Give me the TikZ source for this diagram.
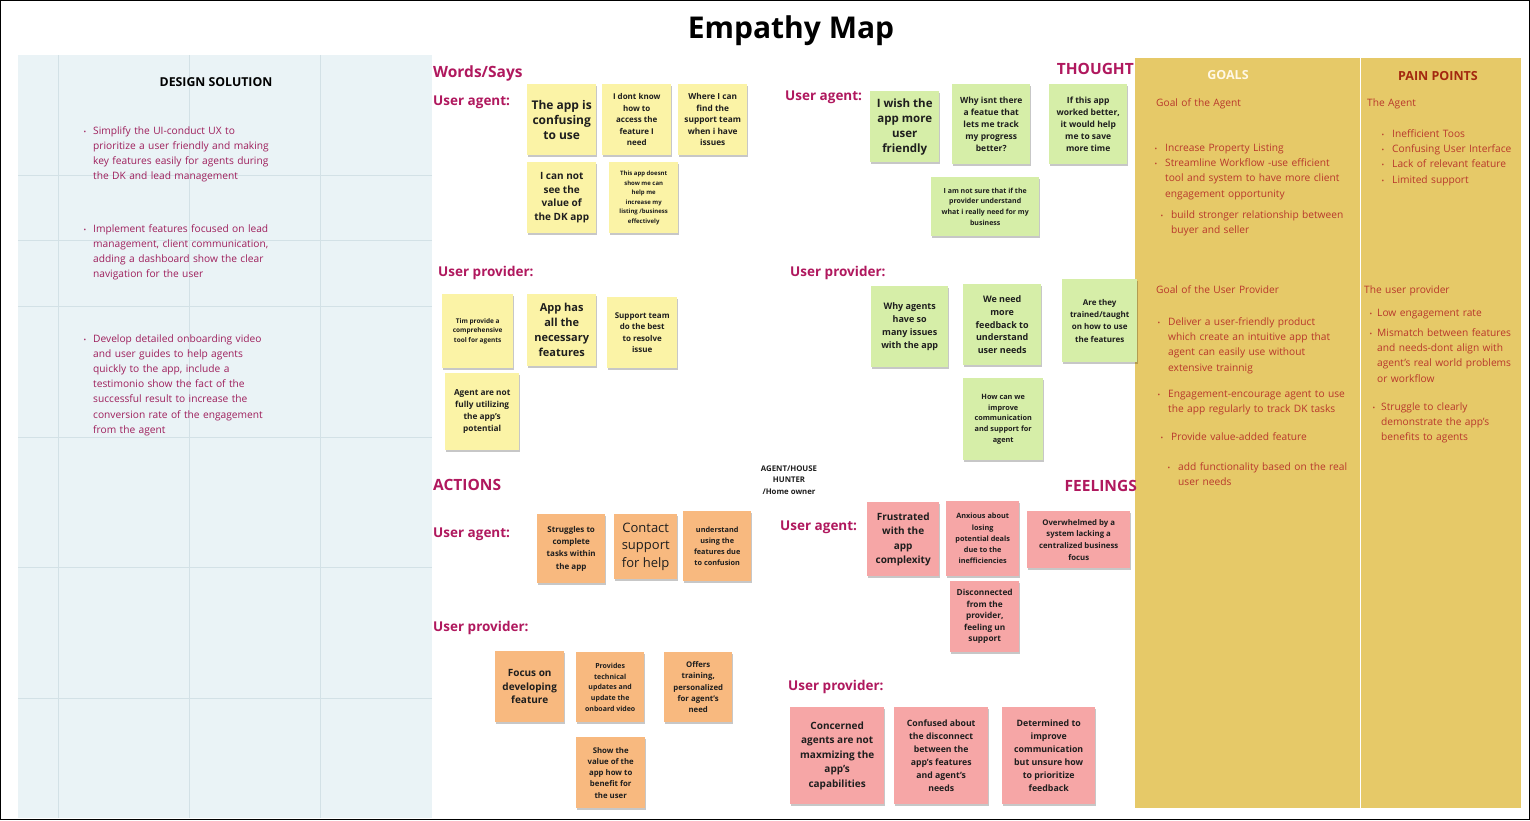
\documentclass[tikz,border=0pt]{standalone}
\usepackage{fontspec}
\setmainfont{Open Sans}
\usetikzlibrary{shadows}
\definecolor{mag}{HTML}{B0185E}
\definecolor{dsol}{HTML}{9E1F5C}
\definecolor{panelblue}{HTML}{EAF3F6}
\definecolor{gridblue}{HTML}{D3E1E6}
\definecolor{gold}{HTML}{E6C968}
\definecolor{goaltext}{HTML}{B8382C}
\definecolor{goalhead}{HTML}{FFF8E6}
\definecolor{paintitle}{HTML}{A3280F}
\definecolor{yel}{HTML}{FBF3A6}
\definecolor{grn}{HTML}{D6EEA8}
\definecolor{org}{HTML}{F8B97F}
\definecolor{pnk}{HTML}{F6A6A6}
\definecolor{ink}{HTML}{1E1E1E}
\newcommand{\bul}[1][8pt]{\leavevmode\llap{{\fontsize{7}{7}\selectfont\textbullet}\hspace{#1}}}
\tikzset{
  sticky/.style={inner sep=2pt, align=center, anchor=north west, text=ink,
    drop shadow={shadow xshift=0.3pt, shadow yshift=-1.6pt, opacity=0.22, fill=black}},
  sz/.style 2 args={minimum width=#1pt, minimum height=#2pt},
  fb/.style 2 args={font={\bfseries\fontsize{#1}{#2}\selectfont}},
  fr/.style 2 args={font={\fontsize{#1}{#2}\selectfont}},
  hdr/.style={text=mag, font={\bfseries\fontsize{15.5}{18}\selectfont}, inner sep=0pt},
  sub/.style={text=mag, font={\bfseries\fontsize{13.5}{16}\selectfont}, inner sep=0pt, anchor=west},
  btxt/.style={text=#1, font={\fontsize{10.2}{15.2}\selectfont}, inner sep=0pt,
    anchor=base west, align=left, text width=230pt},
}
\begin{document}
\begin{tikzpicture}[x=1pt,y=-1pt]
\useasboundingbox (0,0) rectangle (1530,820);
\fill[white] (0,0) rectangle (1530,820);
% ---------- panels ----------
\fill[panelblue] (18,55) rectangle (432,818);
\foreach \gx in {58.7,189,320.7} \draw[gridblue, line width=0.8pt] (\gx,55) -- (\gx,818);
\foreach \gy in {175,240,306,437,567,698} \draw[gridblue, line width=0.8pt] (18,\gy) -- (432,\gy);
\fill[gold] (1135,58) rectangle (1359.5,808);
\fill[gold] (1361,58) rectangle (1521,808);
\draw[black, line width=1.4pt] (0.7,0.7) rectangle (1529.3,819.3);
% ---------- title ----------
\node[font={\bfseries\fontsize{30}{34}\selectfont}, inner sep=0pt] (title) at (791,31) {Empathy Map};
% ---------- design solution ----------
\node[font={\bfseries\fontsize{12.3}{15}\selectfont}, inner sep=0pt] (dshead) at (216,82) {DESIGN SOLUTION};
\node[btxt=dsol] (ds1) at (93,134) {\bul[7pt]Simplify the UI-conduct UX to\\prioritize a user friendly and making\\key features easily for agents during\\the DK and lead management};
\node[btxt=dsol] (ds2) at (93,232) {\bul[7pt]Implement features focused on lead\\management, client communication,\\adding a dashboard show the clear\\navigation for the user};
\node[btxt=dsol] (ds3) at (93,342) {\bul[7pt]Develop detailed onboarding video\\and user guides to help agents\\quickly to the app, include a\\testimonio show the fact of the\\successful result to increase the\\conversion rate of the engagement\\from the agent};
% ---------- section headers ----------
\node[hdr, anchor=west] (hwords) at (433,73) {Words/Says};
\node[sub] (wua) at (433,102) {User agent:};
\node[sub] (wup) at (438,273) {User provider:};
\node[hdr, anchor=east] (hthought) at (1134,69) {THOUGHT};
\node[sub] (tua) at (785,97) {User agent:};
\node[sub] (tup) at (790,273) {User provider:};
\node[hdr, anchor=west] (hactions) at (433,485) {ACTIONS};
\node[sub] (aua) at (433,534) {User agent:};
\node[sub] (aup) at (433,628) {User provider:};
\node[hdr, anchor=east] (hfeel) at (1137,486) {FEELINGS};
\node[sub] (fua) at (780,527) {User agent:};
\node[sub] (fup) at (788,687) {User provider:};
\node[fb={7.8}{11.5}, align=center, inner sep=0pt, text=ink] (persona) at (789,480) {AGENT/HOUSE\\HUNTER\\/Home owner};
% ---------- words / says ----------
\node[sticky, fill=yel, sz={69}{71}, fb={12}{15}] (w1) at (527,84) {The app is\\confusing\\to use};
\node[sticky, fill=yel, sz={69}{71}, fb={8}{11.6}] (w2) at (602,84) {I dont know\\how to\\access the\\feature I\\need};
\node[sticky, fill=yel, sz={69}{71}, fb={8.3}{11.5}] (w3) at (678,84) {Where I can\\find the\\support team\\when i have\\issues};
\node[sticky, fill=yel, sz={69}{71}, fb={10}{13.8}] (w4) at (527,162) {I can not\\see the\\value of\\the DK app};
\node[sticky, fill=yel, sz={69}{71}, fb={6}{9.5}] (w5) at (609,162) {This app doesnt\\show me can\\help me\\increase my\\listing /business\\effectively};
\node[sticky, fill=yel, sz={71}{74}, fb={6.5}{9.8}] (w6) at (442,294) {Tim provide a\\comprehensive\\tool for agents};
\node[sticky, fill=yel, sz={69}{72}, fb={11}{14.9}] (w7) at (527,294) {App has\\all the\\necessary\\features};
\node[sticky, fill=yel, sz={70}{71}, fb={8}{11.3}] (w8) at (607,297) {Support team\\do the best\\to resolve\\issue};
\node[sticky, fill=yel, sz={74}{77}, fb={8.3}{12.2}] (w9) at (445,373) {Agent are not\\fully utilizing\\the app's\\potential};
% ---------- thought ----------
\node[sticky, fill=grn, sz={69}{71}, fb={11.5}{15}] (t1) at (870,91) {I wish the\\app more\\user\\friendly};
\node[sticky, fill=grn, sz={78}{80}, fb={8.5}{12}] (t2) at (952,84) {Why isnt there\\a featue that\\lets me track\\my progress\\better?};
\node[sticky, fill=grn, sz={78}{80}, fb={8.5}{12}] (t3) at (1049,84) {If this app\\worked better,\\it would help\\me to save\\more time};
\node[sticky, fill=grn, sz={108}{59}, fb={7}{10.8}] (t4) at (931,177) {I am not sure that if the\\provider understand\\what i really need for my\\business};
\node[sticky, fill=grn, sz={77}{81}, fb={9}{12.8}] (t5) at (871,286) {Why agents\\have so\\many issues\\with the app};
\node[sticky, fill=grn, sz={78}{81}, fb={9}{12.9}] (t6) at (963,284) {We need\\more\\feedback to\\understand\\user needs};
\node[sticky, fill=grn, sz={75}{83}, fb={8}{12.3}] (t7) at (1062,279) {Are they\\trained/taught\\on how to use\\the features};
\node[sticky, fill=grn, sz={80}{82}, fb={7.3}{10.9}] (t8) at (963,378) {How can we\\improve\\communication\\and support for\\agent};
% ---------- actions ----------
\node[sticky, fill=org, sz={68}{69}, fb={8}{12.2}] (a1) at (537,514) {Struggles to\\complete\\tasks within\\the app};
\node[sticky, fill=org, sz={63}{65}, fr={13}{17.5}] (a2) at (614,514) {Contact\\support\\for help};
\node[sticky, fill=org, sz={68}{70}, fb={7.3}{11.1}] (a3) at (683,511) {understand\\using the\\features due\\to confusion};
\node[sticky, fill=org, sz={69}{71}, fb={10}{13.7}] (a4) at (495,651) {Focus on\\developing\\feature};
\node[sticky, fill=org, sz={68}{70}, fb={7}{10.6}] (a5) at (576,652) {Provides\\technical\\updates and\\update the\\onboard video};
\node[sticky, fill=org, sz={68}{70}, fb={7.8}{11.25}] (a6) at (664,652) {Offers\\training,\\personalized\\for agent's\\need};
\node[sticky, fill=org, sz={69}{71}, fb={7.8}{11.3}] (a7) at (576,737) {Show the\\value of the\\app how to\\benefit for\\the user};
% ---------- feelings ----------
\node[sticky, fill=pnk, sz={72}{74}, fb={10}{14.4}] (f1) at (867,502) {Frustrated\\with the\\app\\complexity};
\node[sticky, fill=pnk, sz={73}{75}, fb={7.3}{11.25}] (f2) at (946,501) {Anxious about\\losing\\potential deals\\due to the\\inefficiencies};
\node[sticky, fill=pnk, sz={103}{57}, fb={7.8}{11.7}] (f3) at (1027,511) {Overwhelmed by a\\system lacking a\\centralized business\\focus};
\node[sticky, fill=pnk, sz={69}{71}, fb={8.3}{11.5}] (f4) at (950,581) {Disconnected\\from the\\provider,\\feeling un\\support};
\node[sticky, fill=pnk, sz={94}{97}, fb={10}{14.6}] (f5) at (790,707) {Concerned\\agents are not\\maxmizing the\\app's\\capabilities};
\node[sticky, fill=pnk, sz={94}{97}, fb={8.7}{13}] (f6) at (894,707) {Confused about\\the disconnect\\between the\\app's features\\and agent's\\needs};
\node[sticky, fill=pnk, sz={93}{97}, fb={8.8}{13}] (f7) at (1002,707) {Determined to\\improve\\communication\\but unsure how\\to prioritize\\feedback};
% ---------- goals ----------
\node[font={\bfseries\fontsize{12.5}{15}\selectfont}, text=goalhead, inner sep=0pt] (ghead) at (1228,75) {GOALS};
\node[btxt=goaltext] (ga) at (1156,106.5) {Goal of the Agent};
\node[btxt=goaltext] (g1) at (1165,151.5) {\bul Increase Property Listing\\\bul Streamline Workflow -use efficient\\tool and system to have more client\\engagement opportunity};
\node[btxt=goaltext] (g2) at (1171,218.5) {\bul build stronger relationship between\\buyer and seller};
\node[btxt=goaltext] (gp) at (1156,293.5) {Goal of the User Provider};
\node[btxt=goaltext] (g3) at (1168,325.5) {\bul Deliver a user-friendly product\\which create an intuitive app that\\agent can easily use without\\extensive trainnig};
\node[btxt=goaltext] (g4) at (1168,397.5) {\bul Engagement-encourage agent to use\\the app regularly to track DK tasks};
\node[btxt=goaltext] (g5) at (1171,440.5) {\bul Provide value-added feature};
\node[btxt=goaltext] (g6) at (1178,470.5) {\bul add functionality based on the real\\user needs};
% ---------- pain points ----------
\node[font={\bfseries\fontsize{12.5}{15}\selectfont}, text=paintitle, inner sep=0pt] (phead) at (1438,76) {PAIN POINTS};
\node[btxt=goaltext] (pa) at (1367,106.5) {The Agent};
\node[btxt=goaltext] (p1) at (1392,137.5) {\bul Inefficient Toos\\\bul Confusing User Interface\\\bul Lack of relevant feature\\\bul Limited support};
\node[btxt=goaltext] (pp) at (1364,293.5) {The user provider};
\node[btxt=goaltext] (p2) at (1377,316.5) {\bul[5pt]Low engagement rate};
\node[btxt=goaltext] (p3) at (1377,336.5) {\bul[5pt]Mismatch between features\\and needs-dont align with\\agent's real world problems\\or workflow};
\node[btxt=goaltext] (p4) at (1381,410.5) {\bul[6pt]Struggle to clearly\\demonstrate the app's\\benefits to agents};
\end{tikzpicture}
\end{document}
